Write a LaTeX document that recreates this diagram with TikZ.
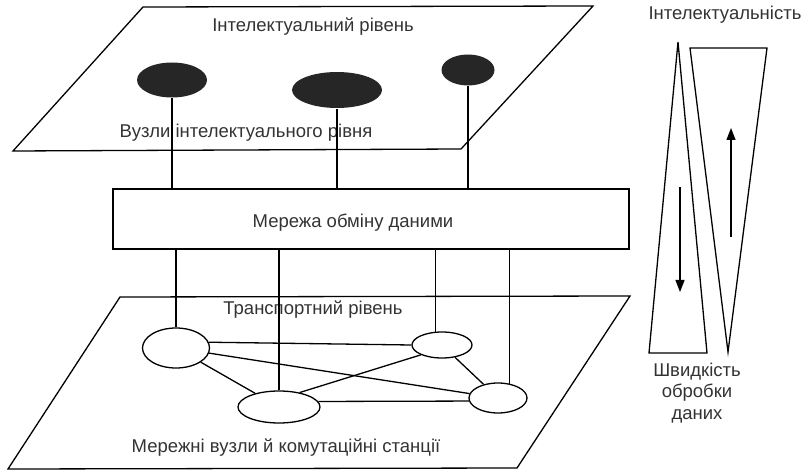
\documentclass[tikz,border=0pt]{standalone}
\usepackage{fontspec}
\setmainfont{Liberation Sans}
\usetikzlibrary{shapes.geometric,arrows.meta}
\begin{document}
\begin{tikzpicture}[x=1bp,y=-1bp,
  line width=1.3bp, line join=miter,
  lbl/.style={font=\fontsize{18.5bp}{21.5bp}\selectfont, text=black!80, inner sep=0pt, align=center},
  topnode/.style={ellipse, fill=black!85, draw=none, inner sep=0pt},
  netnode/.style={ellipse, draw, fill=white, inner sep=0pt},
  netbox/.style={draw, inner sep=0pt, minimum width=516bp, minimum height=60bp},
  tipdown/.style={-{Triangle[length=12bp,width=9bp]}}
]
\useasboundingbox (0,0) rectangle (805,470);

% intelligent level plane
\draw (143,7) -- (593,6) -- (461,149) -- (13,151) -- cycle;
\node[lbl] (toplbl) at (313,27) {Інтелектуальний рівень};
\node[lbl] (topnodes) at (246,133) {Вузли інтелектуального рівня};

\node[topnode, minimum width=70bp, minimum height=35bp] (i1) at (172,80) {};
\node[topnode, minimum width=90bp, minimum height=36bp] (i2) at (337,90) {};
\node[topnode, minimum width=53bp, minimum height=31bp] (i3) at (468,70) {};

% data exchange network
\node[netbox] (net) at (371,219) {};
\node[lbl] (netlbl) at (353,223) {Мережа обміну даними};

\draw (i1.south) -- (i1.south |- net.north);
\draw (i2.south) -- (i2.south |- net.north);
\draw (i3.south) -- (i3.south |- net.north);

% transport level plane
\draw (120,297) -- (630,296) -- (517,468) -- (8,469) -- cycle;
\node[lbl] (trlbl) at (313,310) {Транспортний рівень};
\node[lbl] (stlbl) at (286,448) {Мережні вузли й комутаційні станції};

\node[netnode, minimum width=67bp, minimum height=40bp] (A) at (176,348) {};
\node[netnode, minimum width=82bp, minimum height=32bp] (B) at (279,407) {};
\node[netnode, minimum width=60bp, minimum height=26bp] (C) at (442,345) {};
\node[netnode, minimum width=58bp, minimum height=30bp] (D) at (498,398) {};

\draw (A.north) -- (A.north |- net.south);
\draw (B.north) -- (B.north |- net.south);
\draw (C.115) -- (C.115 |- net.south);
\draw (D.52) -- (D.52 |- net.south);

\draw (A.10) -- (C.west);
\draw (A) -- (D);
\draw (A) -- (B);
\draw (B.35) -- (C.205);
\draw (B.8) -- (D.186);
\draw (C) -- (D);

% intelligence / processing speed scale
\node[lbl] (intlbl) at (725,15) {Інтелектуальність};
\coordinate (L1) at (678,42);
\coordinate (L2) at (707,353);
\coordinate (L3) at (649,353);
\coordinate (R1) at (690,48);
\coordinate (R2) at (767,48);
\coordinate (R3) at (728,352);
\draw (L1) -- (L2) -- (L3) -- cycle;
\draw (R1) -- (R2) -- (R3) -- cycle;
\coordinate (dn1) at (680,187);
\coordinate (dn2) at (680,292);
\coordinate (up1) at (731,237);
\coordinate (up2) at (731,128);
\draw[tipdown] (dn1) -- (dn2);
\draw[tipdown] (up1) -- (up2);
\node[lbl] (speedlbl) at (697,393) {Швидкість\\обробки\\даних};
\end{tikzpicture}
\end{document}
